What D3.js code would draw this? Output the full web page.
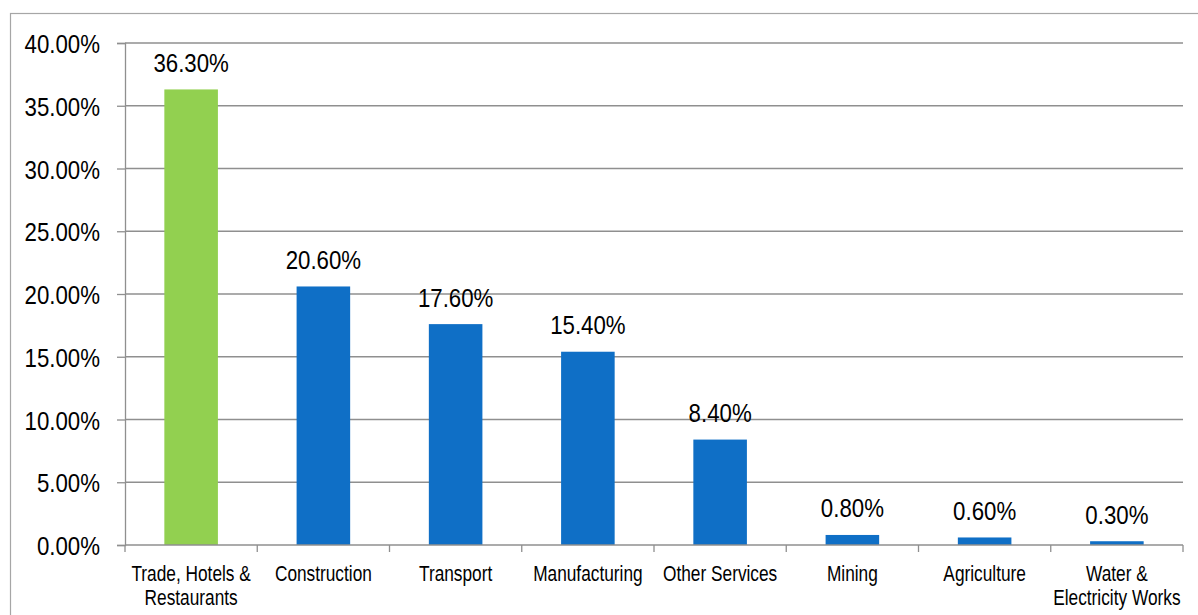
<!DOCTYPE html>
<html>
<head>
<meta charset="utf-8">
<script src="https://cdn.jsdelivr.net/npm/d3@7/dist/d3.min.js"></script>
<style>
  html, body { margin: 0; padding: 0; background: #fff; }
  svg { display: block; font-family: "Liberation Sans", Arial, sans-serif; }
</style>
</head>
<body>
<svg id="chart" width="1198" height="615"></svg>
<script>
// Share of employment by sector (%)
const categories = [
  ["Trade, Hotels &", "Restaurants"],
  ["Construction"],
  ["Transport"],
  ["Manufacturing"],
  ["Other Services"],
  ["Mining"],
  ["Agriculture"],
  ["Water &", "Electricity Works"]
];
const shares = [36.3, 20.6, 17.6, 15.4, 8.4, 0.8, 0.6, 0.3];
const highlighted = [true, false, false, false, false, false, false, false];
const yTicks = [0, 5, 10, 15, 20, 25, 30, 35, 40];

const svg = d3.select("#chart");
const plot = { left: 125, right: 1183, top: 43, bottom: 545 };
const SX = 0.768;  // horizontal squeeze of the condensed category lettering
const SXN = 0.84;  // horizontal squeeze of the numeric labels
const NUM_SIZE = 26.5;
const CAT_SIZE = 22.5;
const CAT_LINE = 25;

// Outer frame of the chart object
svg.append("rect")
  .attr("x", 10.5).attr("y", 13.5)
  .attr("width", 1220).attr("height", 640)
  .attr("fill", "none").attr("stroke", "#a6a6a6").attr("stroke-width", 1.2);

const keys = categories.map(c => c.join(" "));
const x = d3.scaleBand().domain(keys).range([plot.left, plot.right]).padding(0);
const y = d3.scaleLinear().domain([0, 40]).range([plot.bottom, plot.top]);

// Horizontal gridlines
svg.append("g")
  .selectAll("line")
  .data(yTicks.filter(t => t > 0))
  .join("line")
  .attr("x1", plot.left).attr("x2", plot.right)
  .attr("y1", d => y(d)).attr("y2", d => y(d))
  .attr("stroke", "#8f8f8f").attr("stroke-width", 1.3);

// Y axis
const yAxis = svg.append("g")
  .attr("transform", `translate(${plot.left},0)`)
  .call(d3.axisLeft(y).tickValues(yTicks).tickSize(8).tickPadding(0)
    .tickFormat(d => d.toFixed(2) + "%"));
yAxis.select(".domain").attr("stroke", "#8f8f8f").attr("stroke-width", 1.3);
yAxis.selectAll(".tick line").attr("stroke", "#8f8f8f").attr("stroke-width", 1.3);
yAxis.selectAll(".tick text")
  .attr("x", -25 / SXN).attr("dy", "0.36em")
  .attr("transform", `scale(${SXN},1)`)
  .attr("font-size", NUM_SIZE).attr("fill", "#000")
  .attr("font-family", "Liberation Sans, Arial, sans-serif");

// Bars
const barFrac = 0.405;
const barW = x.bandwidth() * barFrac;
svg.append("g")
  .selectAll("rect")
  .data(shares)
  .join("rect")
  .attr("x", (d, i) => x(keys[i]) + (x.bandwidth() - barW) / 2)
  .attr("y", d => y(d))
  .attr("width", barW)
  .attr("height", d => y(0) - y(d))
  .attr("fill", (d, i) => highlighted[i] ? "#92D050" : "#0F6FC6");

// X axis baseline and category boundary ticks
const xAxis = svg.append("g");
xAxis.append("line")
  .attr("x1", plot.left).attr("x2", plot.right)
  .attr("y1", y(0)).attr("y2", y(0))
  .attr("stroke", "#8f8f8f").attr("stroke-width", 1.3);
const bounds = keys.map(k => x(k)).concat([plot.right]);
xAxis.selectAll("line.tick")
  .data(bounds)
  .join("line")
  .attr("class", "tick")
  .attr("x1", d => d).attr("x2", d => d)
  .attr("y1", y(0)).attr("y2", y(0) + 7)
  .attr("stroke", "#8f8f8f").attr("stroke-width", 1.3);

// Category labels (wrapped names are one text with a tspan per line)
const catText = svg.append("g")
  .selectAll("text")
  .data(categories)
  .join("text")
  .attr("transform", (d, i) => `translate(${x(keys[i]) + x.bandwidth() / 2},${y(0) + 35.5}) scale(${SX},1)`)
  .attr("text-anchor", "middle")
  .attr("font-size", CAT_SIZE)
  .attr("fill", "#000");
catText.selectAll("tspan")
  .data(d => d)
  .join("tspan")
  .attr("x", 0)
  .attr("dy", (d, j) => j === 0 ? 0 : CAT_LINE)
  .text(d => d);

// Value labels above bars
svg.append("g")
  .selectAll("text")
  .data(shares)
  .join("text")
  .attr("transform", (d, i) => `translate(${x(keys[i]) + x.bandwidth() / 2},${y(d) - 17.5}) scale(${SXN},1)`)
  .attr("text-anchor", "middle")
  .attr("font-size", NUM_SIZE)
  .attr("fill", "#000")
  .text(d => d.toFixed(2) + "%");
</script>
</body>
</html>
